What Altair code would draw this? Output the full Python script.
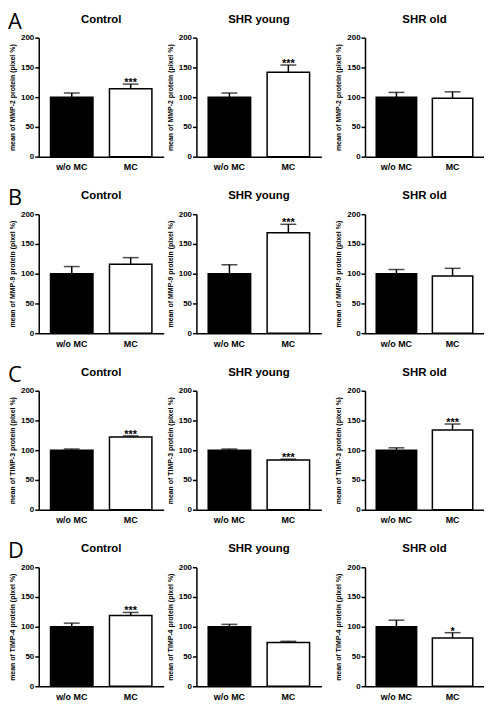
import altair as alt
import pandas as pd

groups = ["Control", "SHR young", "SHR old"]
treatments = ["w/o MC", "MC"]
proteins = ["MMP-2", "MMP-9", "TIMP-3", "TIMP-4"]
letters = ["A", "B", "C", "D"]

# order: Control w/o, Control MC, SHR young w/o, SHR young MC, SHR old w/o, SHR old MC
mmp2_mean = [100, 114, 100, 142, 100, 98]
mmp2_err = [7, 8, 7, 12, 8, 11]
mmp2_sig = ["", "***", "", "***", "", ""]

mmp9_mean = [100, 116, 100, 169, 100, 96]
mmp9_err = [12, 11, 15, 14, 7, 13]
mmp9_sig = ["", "", "", "***", "", ""]

timp3_mean = [100, 122, 100, 83.5, 100, 134]
timp3_err = [2, 2, 2, 1.5, 4, 10]
timp3_sig = ["", "***", "", "***", "", "***"]

timp4_mean = [100, 119, 100, 73.5, 100, 81]
timp4_err = [6, 5, 4, 2, 11, 9]
timp4_sig = ["", "***", "", "", "", "*"]

series = {
    "MMP-2": (mmp2_mean, mmp2_err, mmp2_sig),
    "MMP-9": (mmp9_mean, mmp9_err, mmp9_sig),
    "TIMP-3": (timp3_mean, timp3_err, timp3_sig),
    "TIMP-4": (timp4_mean, timp4_err, timp4_sig),
}

rows = []
for p in proteins:
    m, e, s = series[p]
    i = 0
    for g in groups:
        for t in treatments:
            rows.append({"protein": p, "group": g, "treatment": t,
                         "mean": m[i], "hi": m[i] + e[i], "sig": s[i]})
            i += 1
df = pd.DataFrame(rows)

FONT = "Liberation Sans"
PLOT_H = 120


def panel(protein, group, width, letter=None):
    d = df[(df.protein == protein) & (df.group == group)]
    ytitle = f"mean of {protein} protein (pixel %)"
    yaxis = alt.Axis(values=[0, 50, 100, 150, 200], title=ytitle, grid=False,
                     domainColor="black", domainWidth=1.5, tickColor="black",
                     tickWidth=1.5, tickSize=4, labelFont=FONT, labelFontSize=8,
                     labelFontWeight="bold", labelColor="black", labelPadding=1,
                     titleFont=FONT, titleFontSize=7, titleFontWeight="bold",
                     titleColor="black", titlePadding=5)
    yscale = alt.Scale(domain=[0, 200], nice=False)
    base = alt.Chart(d).encode(
        x=alt.X("treatment:N", sort=treatments,
                scale=alt.Scale(paddingInner=0.28, paddingOuter=0.2),
                axis=alt.Axis(title=None, labelAngle=0, ticks=False, tickSize=0,
                              domainColor="black", domainWidth=1.5,
                              labelFont=FONT, labelFontSize=9,
                              labelFontWeight="bold", labelColor="black",
                              labelPadding=6))
    )
    bars = base.mark_bar(stroke="black", strokeWidth=1.5).encode(
        y=alt.Y("mean:Q", scale=yscale, axis=yaxis),
        fill=alt.Fill("treatment:N", scale=alt.Scale(domain=treatments,
                                                      range=["black", "white"]),
                      legend=None),
    )
    rule = base.mark_rule(strokeWidth=1.5, color="black").encode(
        y=alt.Y("mean:Q", scale=yscale, axis=yaxis), y2="hi:Q")
    cap = base.mark_tick(size=16, thickness=1.5, color="black").encode(
        y=alt.Y("hi:Q", scale=yscale, axis=yaxis))
    stars = base.mark_text(font=FONT, fontSize=11, fontWeight="bold",
                           color="black", baseline="alphabetic", dy=2).encode(
        y=alt.Y("hi:Q", scale=yscale, axis=yaxis), text="sig:N")
    title = alt.Chart(pd.DataFrame({"t": [group]})).mark_text(
        font=FONT, fontSize=11.5, fontWeight="bold", color="black",
        align="center", baseline="top").encode(
        x=alt.value(width / 2), y=alt.value(-24), text="t:N")
    layers = [bars, rule, cap, stars, title]
    if letter:
        lt = alt.Chart(pd.DataFrame({"letter": [letter]})).mark_text(
            font="Open Sans", fontSize=22, color="black", align="left",
            baseline="top").encode(
            x=alt.value(-31), y=alt.value(-26), text="letter:N")
        layers.append(lt)
    return alt.layer(*layers).properties(width=width, height=PLOT_H)


widths = [126, 126, 120]
row_charts = []
for p, L in zip(proteins, letters):
    p1 = panel(p, groups[0], widths[0], L)
    p2 = panel(p, groups[1], widths[1])
    p3 = panel(p, groups[2], widths[2])
    inner = alt.hconcat(p1, p2, spacing=2)
    row_charts.append(alt.hconcat(inner, p3, spacing=13))

chart = alt.vconcat(*row_charts, spacing=16).configure_view(
    stroke=None).properties(padding=0, background="white")

chart.save("out.html", embed_options={"renderer": "svg", "actions": False})
